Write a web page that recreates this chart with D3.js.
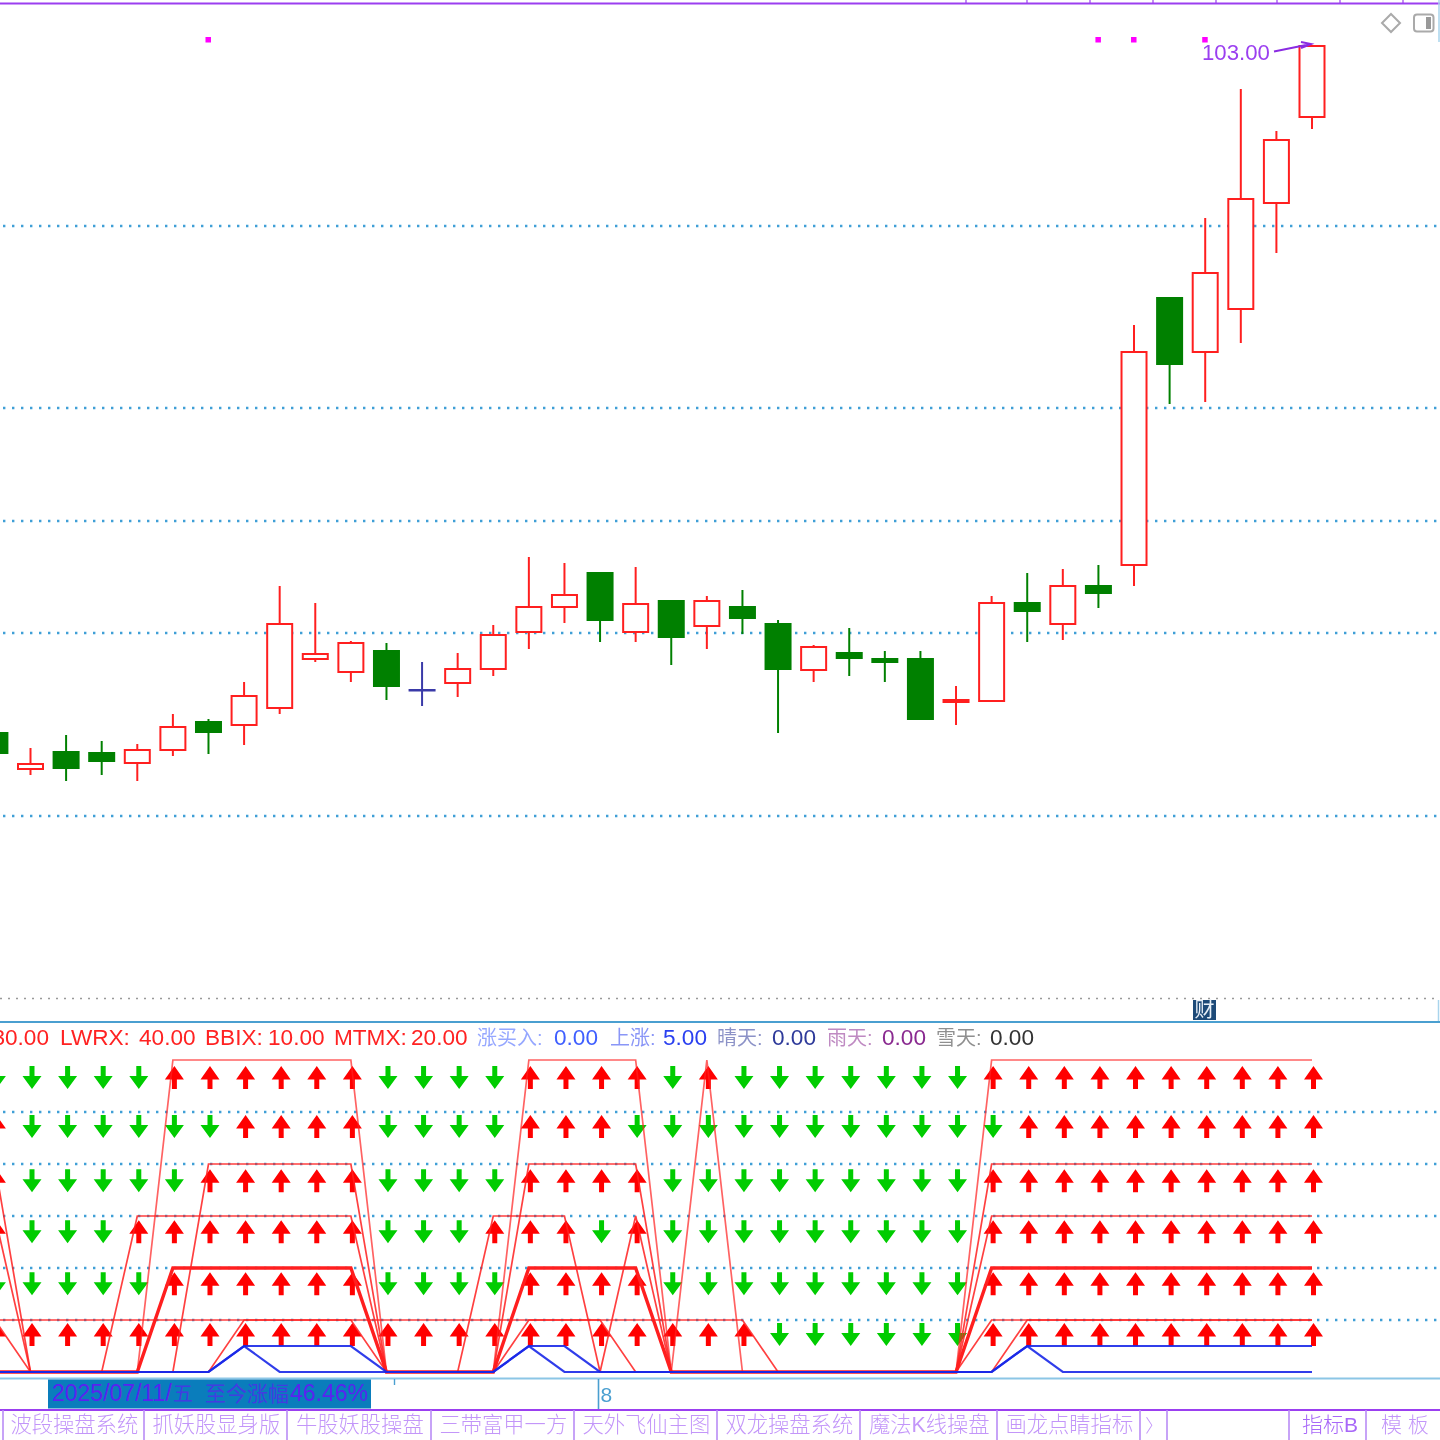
<!DOCTYPE html>
<html><head><meta charset="utf-8">
<script src="https://cdn.jsdelivr.net/npm/d3@7"></script>
<style>
html,body{margin:0;padding:0;background:#fff;overflow:hidden}
svg{display:block;filter:blur(0.55px)}
text{font-family:"Liberation Sans","Noto Sans CJK SC",sans-serif}
</style></head><body>
<svg id="c" width="1440" height="1440"></svg>
<script>
const opens =[34.3,30.7,32.4,32.3,31.3,32.6,35.4,35.1,36.8,41.7,40.4,42.5,38.6,39.3,40.7,44.4,46.9,50.3,44.4,47.5,45.0,46.9,45.2,40.6,42.3,41.7,41.7,37.4,37.5,47.3,45.2,49.0,51.1,77.8,72.4,76.7,87.3,95.9];
const highs =[34.3,32.8,34.1,33.5,33.2,36.2,35.7,39.4,49.0,47.3,43.5,43.3,41.4,42.3,45.1,51.9,51.3,50.3,50.9,47.5,48.0,48.6,45.6,43.1,44.8,42.5,42.5,39.0,48.0,50.3,50.7,51.1,75.1,77.8,85.8,98.7,94.5,103.0];
const lows  =[32.3,30.1,29.5,30.1,29.5,32.0,32.2,33.1,36.2,41.4,39.4,37.6,37.0,37.9,40.0,42.7,45.3,43.4,43.4,41.1,42.7,44.2,34.3,39.4,40.0,39.4,35.6,35.1,37.5,43.4,43.6,46.8,49.0,67.2,67.4,73.3,82.3,94.7];
const closes=[32.3,31.2,30.8,31.5,32.6,34.9,34.4,38.0,45.2,42.2,43.3,39.0,38.6,40.7,44.1,46.9,48.1,45.6,47.2,43.9,47.5,45.8,40.7,42.9,41.8,41.4,35.7,37.6,47.3,46.5,49.0,48.3,72.4,71.2,80.3,87.7,93.6,103.0];
const priceGrid=[85.0,66.8,55.5,44.3,26.0];
const signalIdx=[6,31,32,34];
const signalPrice=103.6;

const rowLevels=[60,10,40,30,20,10];
const rowTips=[58.85,49.4,39.0,29.2,19.2,9.4];
const rowStates=[
 "00000111111000011110100000001111111111",
 "10000001111000011100000000000111111111",
 "10000011111000011110000000001111111111",
 "10001111111000111010000000001111111111",
 "00000111111000011110000000001111111111",
 "11111111111111111111110000001111111111"];
const blueA=[0,0,0,0,0,0,0,5,5,5,5,0,0,0,0,5,5,0,0,0,0,0,0,0,0,0,0,0,0,5,5,5,5,5,5,5,5,5];
const blueB=[0,0,0,0,0,0,0,5,0,0,0,0,0,0,0,5,0,0,0,0,0,0,0,0,0,0,0,0,0,5,0,0,0,0,0,0,0,0];
const subGrid=[50,40,30,20,10];

// label, value, colour, label x, value x
const legendItems=[
 ["LWRX:","40.00","#f22",60,139],["BBIX:","10.00","#f22",205,268],["MTMX:","20.00","#f22",334,411],
 ["涨买入:","0.00","#3f5fff",477,554],["上涨:","5.00","#2a40f0",610,663],["晴天:","0.00","#2e3a9a",717,772],["雨天:","0.00","#8a2a90",827,882],["雪天:","0.00","#333",936,990]];
const tabLabels=["波段操盘系统","抓妖股显身版","牛股妖股操盘","三带富甲一方","天外飞仙主图","双龙操盘系统","魔法K线操盘","画龙点睛指标","〉"];
const tabEdges=[3,144,287,431,574,717,860,997,1140,1167,1289,1366];
const topTicks=[966,1027,1090,1153,1216,1277,1340,1403];

const svg=d3.select("#c");
const N=opens.length;
const x=d3.scaleLinear().domain([1,37]).range([30.5,1312]);
const y=d3.scaleLinear().domain([103,26]).range([46,816]);
const ys=d3.scaleLinear().domain([0,60]).range([1372,1060]);
const RED="#ff1f1f",GREEN="#008000",GRID="#3f9fd6",PUR="#9b3ff0",ARR_R="#ff0000",ARR_G="#00cc00";

function dots(sel,vals,sc){sel.selectAll(null).data(vals).join("line")
 .attr("x1",3).attr("x2",1440).attr("y1",d=>sc(d)).attr("y2",d=>sc(d))
 .attr("stroke",GRID).attr("stroke-width",2.4).attr("stroke-dasharray","2.4 6.6");}
dots(svg.append("g"),priceGrid,y);
dots(svg.append("g"),subGrid,ys);

const cw=25;
const g=svg.append("g");
d3.range(N).forEach(i=>{
  const o=opens[i],c=closes[i];
  const col=c>o?RED:(c<o?GREEN:"#3a3aa8");
  const t=y(Math.max(o,c)),b=y(Math.min(o,c));
  g.append("line").attr("x1",x(i)).attr("x2",x(i)).attr("y1",y(highs[i])).attr("y2",t).attr("stroke",col).attr("stroke-width",2);
  g.append("line").attr("x1",x(i)).attr("x2",x(i)).attr("y1",b).attr("y2",y(lows[i])).attr("stroke",col).attr("stroke-width",2);
  g.append("rect").attr("x",x(i)-cw/2).attr("y",t).attr("width",cw).attr("height",Math.max(b-t,0.5))
   .attr("fill",c>o?"#fff":col).attr("stroke",col).attr("stroke-width",2);
});

svg.append("g").selectAll("rect").data(signalIdx).join("rect")
 .attr("x",d=>x(d)-3).attr("y",y(signalPrice)-3).attr("width",5.5).attr("height",5.5).attr("fill","#ff00ff");

svg.append("text").attr("x",1202).attr("y",y(103)+14).attr("font-size",22.2).attr("fill",PUR).text("103.00");
svg.append("path").attr("d",`M1274,${y(103)+5.5}L${x(37)-1},${y(103)-2}M${x(37)-11},${y(103)-4}L${x(37)-1},${y(103)-2}L${x(37)-11},${y(103)+2}`)
 .attr("stroke","#8a2be2").attr("stroke-width",2).attr("fill","none");

svg.append("path").attr("d","M1391,14L1400,23L1391,32L1382,23Z").attr("fill","#fff").attr("stroke","#aaa").attr("stroke-width",2);
svg.append("rect").attr("x",1414).attr("y",14.5).attr("width",19.5).attr("height",17).attr("rx",3).attr("fill","#fff").attr("stroke","#aaa").attr("stroke-width",2);
svg.append("rect").attr("x",1426).attr("y",17).attr("width",5).attr("height",12).attr("fill","#999");

svg.append("line").attr("x1",0).attr("x2",1440).attr("y1",3.5).attr("y2",3.5).attr("stroke",PUR).attr("stroke-width",2);
svg.append("g").selectAll("line").data(topTicks).join("line").attr("x1",d=>d).attr("x2",d=>d).attr("y1",0).attr("y2",3).attr("stroke",PUR).attr("stroke-width",1.2);
svg.append("line").attr("x1",1439).attr("x2",1439).attr("y1",0).attr("y2",42).attr("stroke","#a9d4ec").attr("stroke-width",1.5);
svg.append("line").attr("x1",0).attr("x2",1440).attr("y1",998.5).attr("y2",998.5).attr("stroke","#999").attr("stroke-width",1.3).attr("stroke-dasharray","2 6");
svg.append("line").attr("x1",1438.5).attr("x2",1438.5).attr("y1",1000).attr("y2",1022).attr("stroke","#a9d4ec").attr("stroke-width",1.5);
svg.append("line").attr("x1",0).attr("x2",1440).attr("y1",1022).attr("y2",1022).attr("stroke","#4a9fd0").attr("stroke-width",2);
svg.append("line").attr("x1",0).attr("x2",1440).attr("y1",1378.5).attr("y2",1378.5).attr("stroke","#8cc6e6").attr("stroke-width",1.8);

svg.append("rect").attr("x",1193).attr("y",1000).attr("width",23).attr("height",20).attr("fill","#1d4a78");
svg.append("text").attr("x",1204.5).attr("y",1017).attr("text-anchor","middle").attr("font-size",20).attr("fill","#e8f0f8").text("财");

// legend: the first value runs off the left edge, as in the reference
svg.append("text").attr("x",49).attr("y",1045).attr("text-anchor","end").attr("font-size",22.6).attr("fill","#f22").text("30.00");
legendItems.forEach(([a,b,col,px,vx])=>{
  const cjk=/[\u4e00-\u9fff]/.test(a);
  svg.append("text").attr("x",px).attr("y",1045).attr("font-size",cjk?20:22.6).attr("fill",col).attr("opacity",cjk?0.55:1).text(a);
  svg.append("text").attr("x",vx).attr("y",1045).attr("font-size",22.6).attr("fill",col).text(b);
});

const upShape=c=>{const p=d3.path();p.moveTo(c,0);p.lineTo(c+9.5,13.5);p.lineTo(c+2.5,13.5);p.lineTo(c+2.5,23);p.lineTo(c-2.5,23);p.lineTo(c-2.5,13.5);p.lineTo(c-9.5,13.5);p.closePath();return p.toString();};
const downShape=c=>{const p=d3.path();p.moveTo(c,23);p.lineTo(c+9.5,10);p.lineTo(c+2.5,10);p.lineTo(c+2.5,0);p.lineTo(c-2.5,0);p.lineTo(c-2.5,10);p.lineTo(c-9.5,10);p.closePath();return p.toString();};
rowStates.forEach((s,r)=>{
  const row=svg.append("g").attr("transform",`translate(0,${ys(rowTips[r])})`);
  row.selectAll("path").data(d3.range(N)).join("path")
   .attr("d",i=>s[i]==="1"?upShape(x(i)+1.5):downShape(x(i)+1.5))
   .attr("fill",i=>s[i]==="1"?ARR_R:ARR_G);
});

const ln=d3.line().x((d,i)=>x(i)).y(d=>ys(d));
rowStates.forEach((s,r)=>{
  const vals=Array.from(s).map(ch=>+ch*rowLevels[r]);
  svg.append("path").attr("d",ln(vals)).attr("fill","none").attr("stroke",RED)
   .attr("stroke-width",r===4?3.4:1.7).attr("stroke-opacity",r===0?0.7:(r===4?1:0.85));
});
[blueA,blueB].forEach(v=>svg.append("path").attr("d",ln(v)).attr("fill","none").attr("stroke","#1a28e8").attr("stroke-width",2.2).attr("stroke-opacity",0.9));

svg.append("rect").attr("x",48).attr("y",1379.5).attr("width",323).attr("height",29).attr("fill","#0a7dbc");
const dateText=svg.append("text").attr("y",1401).attr("font-size",23).attr("fill","#5a22f0");
dateText.append("tspan").attr("x",52).text("2025/07/11/");
dateText.append("tspan").attr("x",173).attr("font-size",20).attr("opacity",0.7).text("五");
dateText.append("tspan").attr("x",205).attr("font-size",21).attr("opacity",0.7).text("至今涨幅");
dateText.append("tspan").attr("x",290).text("46.46%");
svg.append("line").attr("x1",394.5).attr("x2",394.5).attr("y1",1379).attr("y2",1385).attr("stroke","#4a9fd0").attr("stroke-width",1.4);
svg.append("line").attr("x1",598.5).attr("x2",598.5).attr("y1",1379).attr("y2",1409).attr("stroke","#4a9fd0").attr("stroke-width",1.6);
svg.append("text").attr("x",600.5).attr("y",1401.5).attr("font-size",21).attr("fill","#4a9fd0").text("8");

svg.append("line").attr("x1",0).attr("x2",1440).attr("y1",1410).attr("y2",1410).attr("stroke",PUR).attr("stroke-width",2);
svg.append("g").selectAll("line").data(tabEdges).join("line").attr("x1",d=>d).attr("x2",d=>d).attr("y1",1410).attr("y2",1440).attr("stroke","#b98cf5").attr("stroke-width",1.6);
tabLabels.forEach((t,i)=>{
  svg.append("text").attr("x",(tabEdges[i]+tabEdges[i+1])/2+0.8).attr("y",1432).attr("text-anchor","middle")
   .attr("font-size",i===8?18:21.3).attr("font-weight",300).attr("fill","#b47cf8").attr("opacity",0.8).text(t);
});
svg.append("text").attr("x",1302).attr("y",1432).attr("font-size",21).attr("font-weight",300).attr("fill","#a868f8").text("指标B");
svg.append("text").attr("x",1381).attr("y",1432).attr("font-size",21).attr("font-weight",300).attr("fill","#b47cf8").attr("opacity",0.8).attr("xml:space","preserve").text("模 板");
</script>
</body></html>
